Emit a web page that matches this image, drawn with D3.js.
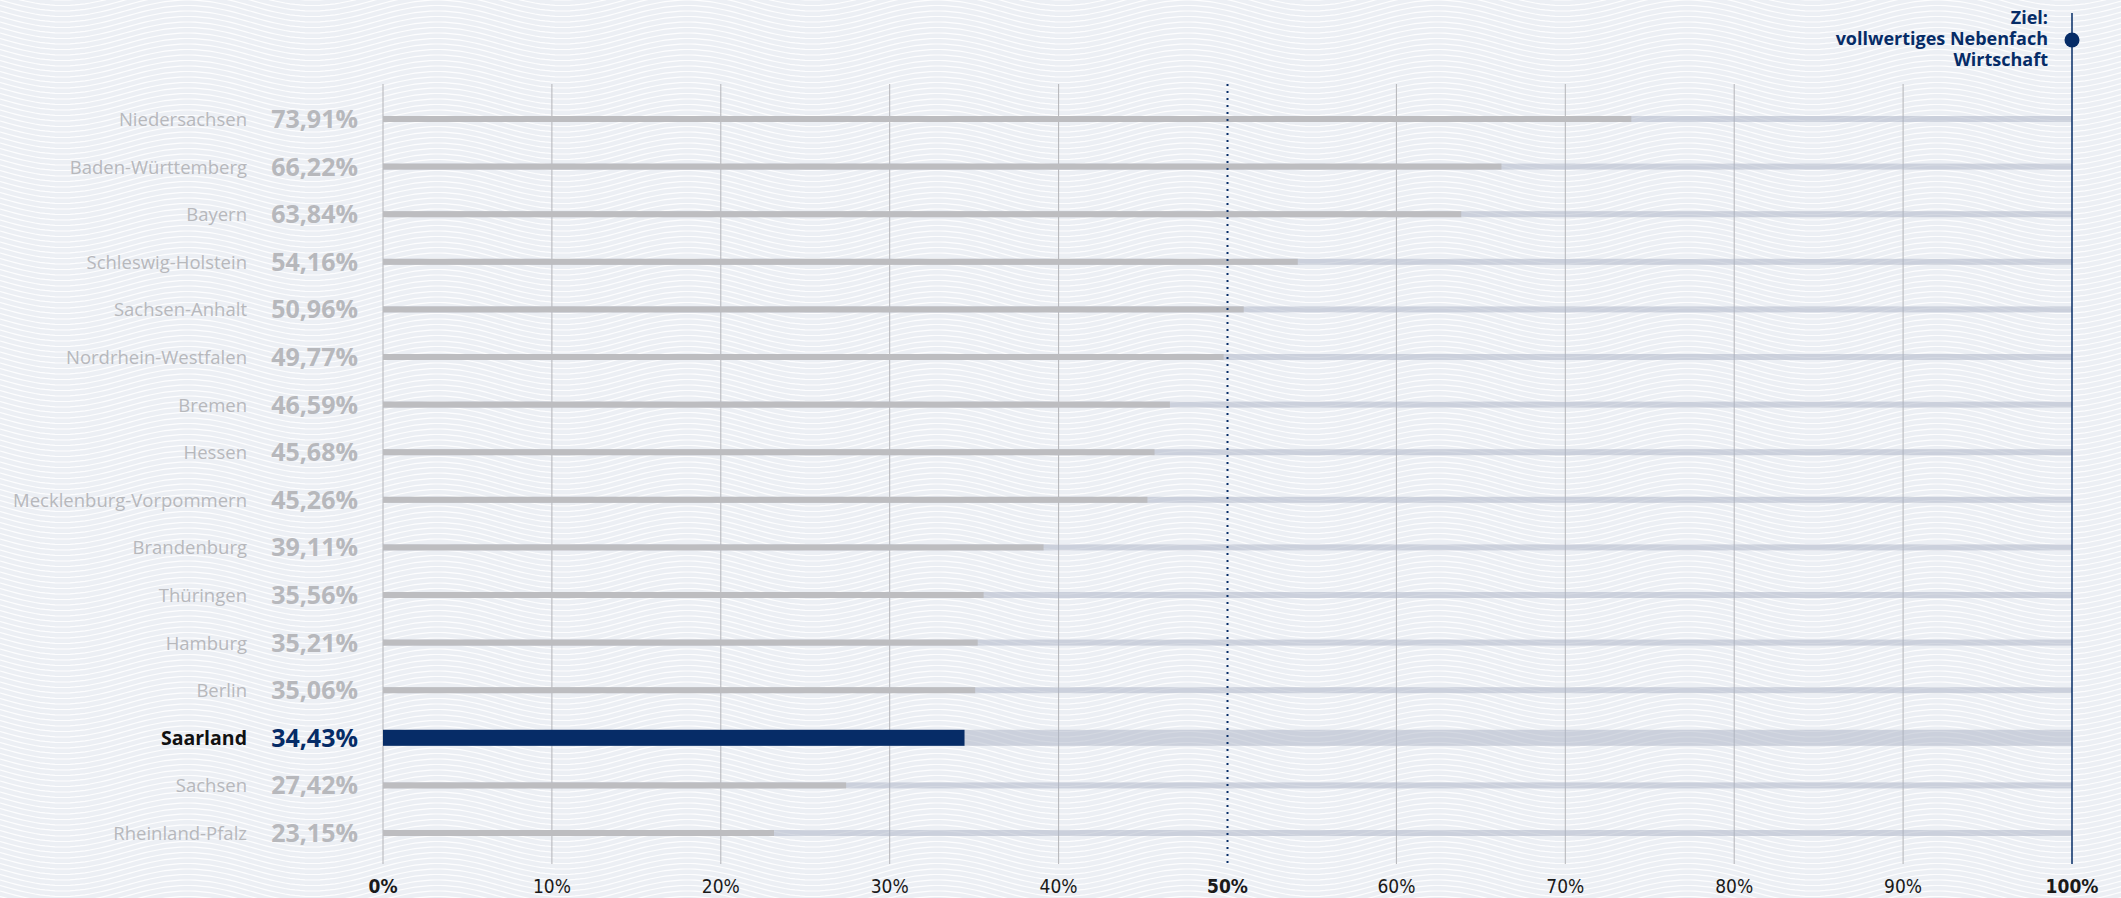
<!DOCTYPE html>
<html>
<head>
<meta charset="utf-8">
<script src="https://cdn.jsdelivr.net/npm/d3@7"></script>
<style>
  html, body { margin: 0; padding: 0; background: #eef1f6; }
  svg { display: block; }
</style>
</head>
<body>
<svg id="chart"></svg>
<script>
// Data
const states = ['Niedersachsen', 'Baden-Württemberg', 'Bayern', 'Schleswig-Holstein', 'Sachsen-Anhalt',
  'Nordrhein-Westfalen', 'Bremen', 'Hessen', 'Mecklenburg-Vorpommern', 'Brandenburg', 'Thüringen',
  'Hamburg', 'Berlin', 'Saarland', 'Sachsen', 'Rheinland-Pfalz'];
const values = [73.91, 66.22, 63.84, 54.16, 50.96, 49.77, 46.59, 45.68, 45.26, 39.11, 35.56, 35.21, 35.06, 34.43, 27.42, 23.15];
const ticks = [0, 10, 20, 30, 40, 50, 60, 70, 80, 90, 100];
const highlight = 'Saarland';
const goalLines = ['Ziel:', 'vollwertiges Nebenfach', 'Wirtschaft'];

const width = 2121, height = 898;
const navy = '#062c67';
const svg = d3.select('#chart').attr('width', width).attr('height', height);

// wavy background pattern
const defs = svg.append('defs');
const pat = defs.append('pattern')
  .attr('id', 'waves')
  .attr('patternUnits', 'userSpaceOnUse')
  .attr('width', 250).attr('height', 44);
for (let k = -3; k < 12; k++) {
  const y0 = k * 5.5;
  let d = `M0,${y0}`;
  for (let x = 0; x <= 250; x += 5) {
    d += ` L${x},${(y0 + 11 * Math.sin(x / 250 * 2 * Math.PI)).toFixed(2)}`;
  }
  pat.append('path').attr('d', d)
    .attr('fill', 'none').attr('stroke', '#ffffff')
    .attr('stroke-width', 1.2).attr('opacity', 0.9);
}
svg.append('rect').attr('width', width).attr('height', height).attr('fill', '#eceff4');
svg.append('rect').attr('width', width).attr('height', height).attr('fill', 'url(#waves)');

// scales
const x = d3.scaleLinear().domain([0, 100]).range([383, 2072]);
const y = d3.scalePoint().domain(states).range([119, 833]);
const gridTop = 84, gridBottom = 864;

// grid lines
svg.append('g').selectAll('line')
  .data(ticks.filter(t => t !== 50 && t !== 100))
  .enter().append('line')
  .attr('x1', d => x(d)).attr('x2', d => x(d))
  .attr('y1', gridTop).attr('y2', gridBottom)
  .attr('stroke', '#b4b4b8').attr('stroke-width', 1);

// tracks (value to 100%)
svg.append('g').selectAll('rect')
  .data(states)
  .enter().append('rect')
  .attr('x', x(0))
  .attr('width', x(100) - x(0))
  .attr('y', d => y(d) - (d === highlight ? 8 : 3))
  .attr('height', d => d === highlight ? 16 : 6)
  .attr('fill', '#a9b1c4')
  .attr('opacity', 0.5);

// value bars
svg.append('g').selectAll('rect')
  .data(states)
  .enter().append('rect')
  .attr('x', x(0))
  .attr('width', (d, i) => x(values[i]) - x(0))
  .attr('y', d => y(d) - (d === highlight ? 8 : 3))
  .attr('height', d => d === highlight ? 16 : 6)
  .attr('fill', d => d === highlight ? navy : '#bdbdc0');

// 50% dotted line
svg.append('line')
  .attr('x1', x(50)).attr('x2', x(50))
  .attr('y1', gridTop).attr('y2', gridBottom)
  .attr('stroke', navy).attr('stroke-width', 2)
  .attr('stroke-dasharray', '2,5');

// 100% goal line and marker
svg.append('line')
  .attr('x1', x(100)).attr('x2', x(100))
  .attr('y1', 13).attr('y2', gridBottom)
  .attr('stroke', navy).attr('stroke-width', 1.5);
svg.append('circle')
  .attr('cx', x(100)).attr('cy', 40).attr('r', 7.5)
  .attr('fill', navy);

svg.append('g').selectAll('text')
  .data(goalLines)
  .enter().append('text')
  .attr('x', 2048)
  .attr('y', (d, i) => 24 + i * 21)
  .attr('text-anchor', 'end')
  .style('font-family', '"Open Sans", sans-serif')
  .style('font-weight', 'bold')
  .style('font-size', '18px')
  .attr('fill', navy)
  .text(d => d);

// state names
svg.append('g').selectAll('text')
  .data(states)
  .enter().append('text')
  .attr('x', 247)
  .attr('y', d => y(d) + 7)
  .attr('text-anchor', 'end')
  .style('font-family', '"Open Sans", sans-serif')
  .style('font-size', d => d === highlight ? '19.5px' : '18.5px')
  .style('font-weight', d => d === highlight ? 'bold' : 'normal')
  .attr('fill', d => d === highlight ? '#111111' : '#b7b8bc')
  .text(d => d);

// values
svg.append('g').selectAll('text')
  .data(states)
  .enter().append('text')
  .attr('x', 358)
  .attr('y', d => y(d) + 9)
  .attr('text-anchor', 'end')
  .style('font-family', '"Open Sans", sans-serif')
  .style('font-size', '25px')
  .style('font-weight', 'bold')
  .attr('fill', d => d === highlight ? navy : '#b7b8bc')
  .text((d, i) => values[i].toFixed(2).replace('.', ',') + '%');

// x axis labels
svg.append('g').selectAll('text')
  .data(ticks)
  .enter().append('text')
  .attr('x', d => x(d))
  .attr('y', 893)
  .attr('text-anchor', 'middle')
  .style('font-family', '"Liberation Sans Narrow", "DejaVu Sans Condensed", sans-serif')
  .style('font-size', '19px')
  .style('font-weight', d => (d === 0 || d === 50 || d === 100) ? 'bold' : 'normal')
  .attr('fill', '#1a1a1a')
  .text(d => d + '%');
</script>
</body>
</html>
